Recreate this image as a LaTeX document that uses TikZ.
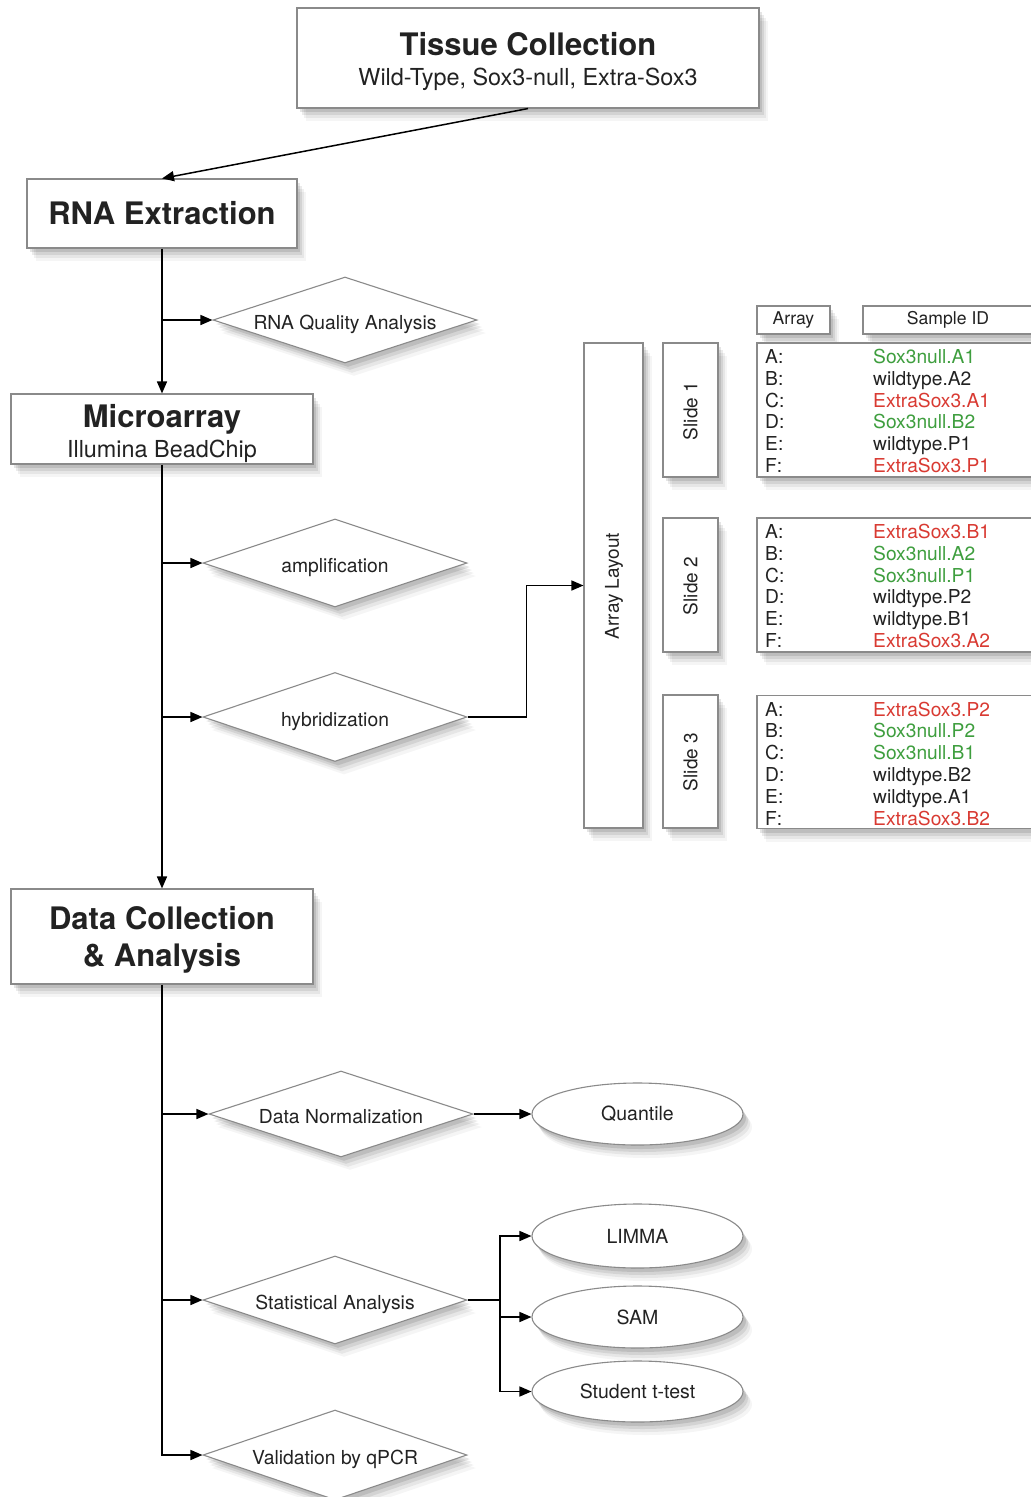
\documentclass[tikz,border=0pt]{standalone}
\usepackage{fontspec}
\setmainfont{TeX Gyre Heros}
\usetikzlibrary{shapes.geometric,shadows,arrows.meta}
\definecolor{bord}{HTML}{8A8A8A}
\definecolor{txt}{HTML}{222222}
\definecolor{sgreen}{HTML}{3E9E3E}
\definecolor{sred}{HTML}{D93A32}
\tikzset{
 shad/.style={
   general shadow={fill=black,opacity=.04,shadow xshift=9pt,shadow yshift=-13pt},
   general shadow={fill=black,opacity=.06,shadow xshift=7pt,shadow yshift=-10pt},
   general shadow={fill=black,opacity=.08,shadow xshift=5pt,shadow yshift=-7pt},
   general shadow={fill=black,opacity=.10,shadow xshift=3pt,shadow yshift=-4pt}},
 box/.style={draw=bord,line width=1.1pt,fill=white,inner sep=0pt,shad,text=txt},
 dia/.style={box,shape=diamond,aspect=3,font=\fontsize{19.3}{23}\selectfont,text height=19pt,text depth=0pt},
 ell/.style={box,shape=ellipse,font=\fontsize{19.5}{23}\selectfont},
 conn/.style={line width=1.5pt,black},
 arr/.style={conn,-{Triangle[length=12pt,width=10pt]}},
 big/.style={font=\fontsize{31}{36}\selectfont\bfseries,text=txt,anchor=base,inner sep=0pt},
 sub/.style={font=\fontsize{23.4}{28}\selectfont,text=txt,anchor=base,inner sep=0pt},
 hdr/.style={box,font=\fontsize{17.6}{21}\selectfont},
 vlab/.style={font=\fontsize{19}{23}\selectfont,text=txt,rotate=90,inner sep=0pt},
 tab/.style={font=\fontsize{19.2}{22}\selectfont,anchor=base west,inner sep=0pt,text=txt},
}
\begin{document}
\begin{tikzpicture}[x=1pt,y=-1pt]
\clip (0,0) rectangle (1031,1497);
\fill[white] (0,0) rectangle (1031,1497);

% main boxes
\node[box,minimum width=462,minimum height=100] (tissue) at (528,58) {};
\node[big] (tissueT) at (528,55) {Tissue Collection};
\node[sub] (tissueS) at (528,85) {Wild-Type, Sox3-null, Extra-Sox3};

\node[box,minimum width=270,minimum height=69] (rna) at (162,213.5) {};
\node[big] (rnaT) at (162,224) {RNA Extraction};

\node[box,minimum width=302,minimum height=70] (micro) at (162,429) {};
\node[big] (microT) at (162,427) {Microarray};
\node[sub] (microS) at (162,457) {Illumina BeadChip};

\node[box,minimum width=302,minimum height=95] (data) at (162,936.5) {};
\node[big] (dataT) at (162,929) {Data Collection};
\node[big] (dataS) at (162,966) {\& Analysis};

% diamonds
\node[dia,minimum width=264,minimum height=86] (rnaq) at (345,320) {RNA Quality Analysis};
\node[dia,minimum width=264,minimum height=88] (amp) at (335,563) {amplification};
\node[dia,minimum width=264,minimum height=89] (hyb) at (335,717) {hybridization};
\node[dia,minimum width=264,minimum height=86] (norm) at (341,1114) {Data Normalization};
\node[dia,minimum width=264,minimum height=88] (stat) at (335,1300) {Statistical Analysis};
\node[dia,minimum width=264,minimum height=90] (valid) at (335,1455) {Validation by qPCR};

% ellipses
\node[ell,minimum width=211,minimum height=62] (quant) at (637.5,1114) {Quantile};
\node[ell,minimum width=211,minimum height=64] (limma) at (637.5,1236) {LIMMA};
\node[ell,minimum width=211,minimum height=62] (sam) at (637.5,1317) {SAM};
\node[ell,minimum width=211,minimum height=61] (stud) at (637.5,1391.5) {Student t-test};

% array layout
\node[box,minimum width=59,minimum height=485] (layout) at (613.5,585.5) {};
\node[vlab] (layoutT) at (614,586) {Array Layout};
\node[box,minimum width=55,minimum height=134] (s1) at (690.5,410) {};
\node[vlab] (s1T) at (690.5,411) {Slide 1};
\node[box,minimum width=55,minimum height=134] (s2) at (690.5,585) {};
\node[vlab] (s2T) at (690.5,586) {Slide 2};
\node[box,minimum width=55,minimum height=133] (s3) at (690.5,761.5) {};
\node[vlab] (s3T) at (690.5,762) {Slide 3};

% tables
\node[hdr,minimum width=73,minimum height=28] (harr) at (793.5,320) {Array};
\node[hdr,minimum width=170,minimum height=28] (hsid) at (948,320) {Sample ID};

\node[box,minimum width=283,minimum height=134] (t1) at (898.5,410) {};
\node[box,minimum width=283,minimum height=134] (t2) at (898.5,585) {};
\node[box,minimum width=283,minimum height=133] (t3) at (898.5,762) {};

\foreach \L [count=\i from 0] in {A,B,C,D,E,F}{
  \node[tab] (t1l\L) at (765,{363.5+21.8*\i}) {\L:};
  \node[tab] (t2l\L) at (765,{538.5+21.8*\i}) {\L:};
  \node[tab] (t3l\L) at (765,{716+21.8*\i}) {\L:};
}
\foreach \c/\s [count=\i from 0] in {sgreen/Sox3null.A1,txt/wildtype.A2,sred/ExtraSox3.A1,sgreen/Sox3null.B2,txt/wildtype.P1,sred/ExtraSox3.P1}
  \node[tab,text=\c] (t1s\i) at (873,{363.5+21.8*\i}) {\s};
\foreach \c/\s [count=\i from 0] in {sred/ExtraSox3.B1,sgreen/Sox3null.A2,sgreen/Sox3null.P1,txt/wildtype.P2,txt/wildtype.B1,sred/ExtraSox3.A2}
  \node[tab,text=\c] (t2s\i) at (873,{538.5+21.8*\i}) {\s};
\foreach \c/\s [count=\i from 0] in {sred/ExtraSox3.P2,sgreen/Sox3null.P2,sgreen/Sox3null.B1,txt/wildtype.B2,txt/wildtype.A1,sred/ExtraSox3.B2}
  \node[tab,text=\c] (t3s\i) at (873,{716+21.8*\i}) {\s};

% connectors
\draw[arr] (tissue.south) -- (rna.north);
\draw[arr] (rna.south) -- (micro.north);
\draw[arr] (rna.south |- rnaq.west) -- (rnaq.west);
\draw[arr] (micro.south) -- (data.north);
\draw[arr] (micro.south |- amp.west) -- (amp.west);
\draw[arr] (micro.south |- hyb.west) -- (hyb.west);
\draw[arr] (hyb.east) -- ++(59,0) |- (layout.west);
\draw[arr] (data.south) |- (valid.west);
\draw[arr] (data.south |- norm.west) -- (norm.west);
\draw[arr] (data.south |- stat.west) -- (stat.west);
\draw[arr] (norm.east) -- (quant.west);
\coordinate (split) at (500,1300);
\draw[conn] (stat.east) -- (split);
\draw[arr] (split) |- (limma.west);
\draw[arr] (split) |- (sam.west);
\draw[arr] (split) |- (stud.west);
\end{tikzpicture}
\end{document}
